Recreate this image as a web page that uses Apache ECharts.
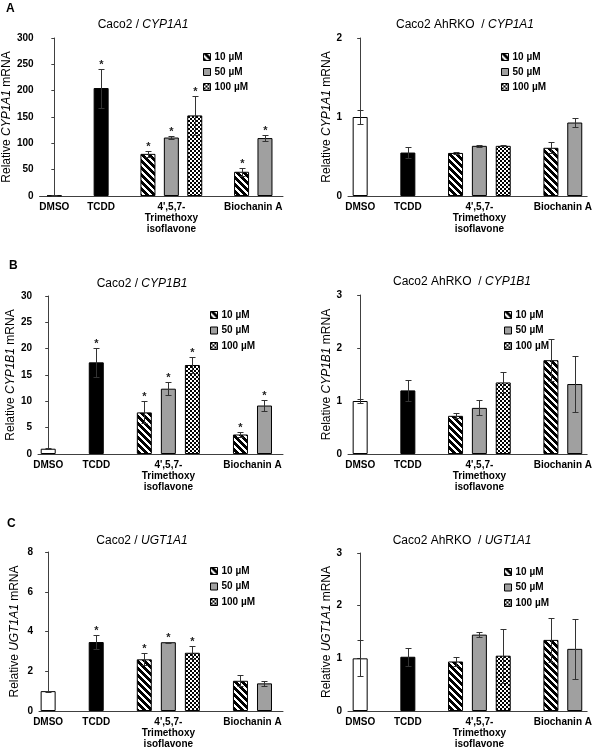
<!DOCTYPE html>
<html><head><meta charset="utf-8">
<script src="https://cdn.jsdelivr.net/npm/echarts@6/dist/echarts.min.js"></script>
<style>html,body{margin:0;padding:0;background:#fff}#c{width:595px;height:750px}</style>
</head><body><div id="c"></div>
<script>
// ---------- data ----------
const categories = ["DMSO", "TCDD", "4',5,7-\nTrimethoxy\nisoflavone", "Biochanin A"];
const categoryPos = [0, 2, 5, 8.5];               // slot position of each category label
const seriesNames = ["DMSO", "TCDD", "10 µM", "50 µM", "100 µM"];
const legendItems = ["10 µM", "50 µM", "100 µM"];
const barSlots  = [0, 2, 4, 5, 6, 8, 9];          // slot of each bar
const barSeries = [0, 1, 2, 3, 4, 2, 3];          // series of each bar

const cellLines = ["Caco2", "Caco2 AhRKO "];
const genes = ["CYP1A1", "CYP1A1", "CYP1B1", "CYP1B1", "UGT1A1", "UGT1A1"];
const panelLetters = ["A", "B", "C"];
const yMax = [300, 2, 30, 3, 8, 3];
const yInterval = [50, 1, 5, 1, 2, 1];

const meanA_wt = [1, 205, 80, 111, 153, 46, 110];
const errA_wt  = [0.6, 37, 5, 2, 37, 8, 6];
const sigA_wt  = [0, 1, 1, 1, 1, 1, 1];
const meanA_ko = [1.0, 0.55, 0.545, 0.635, 0.635, 0.61, 0.93];
const errA_ko  = [0.09, 0.075, 0.01, 0.01, 0.007, 0.07, 0.06];
const sigA_ko  = [0, 0, 0, 0, 0, 0, 0];
const meanB_wt = [1.0, 17.4, 7.9, 12.4, 16.9, 3.7, 9.2];
const errB_wt  = [0.1, 2.7, 2.1, 1.2, 1.6, 0.5, 1.0];
const sigB_wt  = [0, 1, 1, 1, 1, 1, 1];
const meanB_ko = [1.0, 1.2, 0.72, 0.87, 1.35, 1.77, 1.32];
const errB_ko  = [0.04, 0.2, 0.05, 0.14, 0.2, 0.4, 0.52];
const sigB_ko  = [0, 0, 0, 0, 0, 0, 0];
const meanC_wt = [1.0, 3.47, 2.6, 3.46, 2.93, 1.52, 1.39];
const errC_wt  = [0.02, 0.35, 0.3, 0.03, 0.32, 0.27, 0.14];
const sigC_wt  = [0, 1, 1, 1, 1, 0, 0];
const meanC_ko = [1.0, 1.03, 0.94, 1.45, 1.05, 1.35, 1.18];
const errC_ko  = [0.34, 0.17, 0.08, 0.05, 0.51, 0.42, 0.57];
const sigC_ko  = [0, 0, 0, 0, 0, 0, 0];

const panelMeans = [meanA_wt, meanA_ko, meanB_wt, meanB_ko, meanC_wt, meanC_ko];
const panelErrs  = [errA_wt, errA_ko, errB_wt, errB_ko, errC_wt, errC_ko];
const panelSigs  = [sigA_wt, sigA_ko, sigB_wt, sigB_ko, sigC_wt, sigC_ko];

// ---------- layout ----------
const FONT = "'Liberation Sans', Arial, sans-serif";
const gridLeft = [33, 348, 38, 348, 39, 348];
const gridRight = [283, 588, 283, 588, 283, 588];
const gridTop = [38, 38, 296, 295, 552, 553];
const gridBottom = [196, 196, 454, 454, 712, 712];
const xMin = [-0.63, -0.51, -0.425, -0.51, -0.38, -0.51];
const xMax = [9.77, 9.52, 9.77, 9.52, 9.77, 9.52];
const nameGap = [18, 14, 19, 14, 18, 14];
const titleX = [143, 465, 142, 462, 142, 462];
const titleY = [19, 19, 278, 276, 535, 535];
const legendX = [203, 501, 210, 504, 210, 504];
const legendY = [51, 51, 309, 309, 565, 566];
const letterPos = [[6, 3], [9, 260], [7, 518]];

// ---------- patterns ----------
function stripePattern() {
  const n = 7, c = document.createElement('canvas');
  c.width = n; c.height = n;
  const g = c.getContext('2d');
  g.fillStyle = '#fff'; g.fillRect(0, 0, n, n);
  g.fillStyle = '#000';
  for (let y = 0; y < n; y++) for (let k = 0; k < 4; k++) g.fillRect((y + k) % n, y, 1, 1);
  return c;
}
function checkerPattern() {
  const c = document.createElement('canvas');
  c.width = 4; c.height = 4;
  const g = c.getContext('2d');
  g.fillStyle = '#fff'; g.fillRect(0, 0, 4, 4);
  g.fillStyle = '#000';
  g.fillRect(0, 0, 2, 2); g.fillRect(2, 2, 2, 2);
  return c;
}
const fills = ['#ffffff', '#000000', { image: stripePattern(), repeat: 'repeat' }, '#a0a0a0', { image: checkerPattern(), repeat: 'repeat' }];

// ---------- build option ----------
const grids = [], xAxes = [], yAxes = [], series = [], titles = [], legends = [];
for (let p = 0; p < 6; p++) {
  grids.push({ left: gridLeft[p], top: gridTop[p], width: gridRight[p] - gridLeft[p], height: gridBottom[p] - gridTop[p] });
  xAxes.push({
    type: 'value', gridIndex: p, min: xMin[p], max: xMax[p],
    splitLine: { show: false }, axisTick: { show: false },
    axisLine: { show: true, onZero: false, lineStyle: { color: '#404040', width: 1 } },
    axisLabel: {
      customValues: categoryPos,
      formatter: v => categories[categoryPos.indexOf(v)] || '',
      fontFamily: FONT, fontWeight: 'bold', fontSize: 10, color: '#000', lineHeight: 11, margin: 6
    }
  });
  yAxes.push({
    type: 'value', gridIndex: p, min: 0, max: yMax[p], interval: yInterval[p],
    splitLine: { show: false },
    axisLine: { show: true, lineStyle: { color: '#404040', width: 1 } },
    axisTick: { show: true, length: 3, lineStyle: { color: '#404040' } },
    axisLabel: { fontFamily: FONT, fontWeight: 'bold', fontSize: 10, color: '#000', margin: 6 },
    name: '{n|Relative }{i|' + genes[p] + '}{n| mRNA}',
    nameLocation: 'middle', nameGap: nameGap[p],
    nameTextStyle: {
      fontFamily: FONT, fontSize: 12, color: '#000',
      rich: {
        n: { fontFamily: FONT, fontSize: 12, color: '#000' },
        i: { fontFamily: FONT, fontSize: 12, color: '#000', fontStyle: 'italic' }
      }
    }
  });
  titles.push({
    text: '{n|' + cellLines[p % 2] + ' / }{i|' + genes[p] + '}',
    left: titleX[p], top: titleY[p], textAlign: 'center', padding: 0,
    textStyle: {
      fontFamily: FONT, fontSize: 12, fontWeight: 'normal', color: '#000',
      rich: {
        n: { fontFamily: FONT, fontSize: 12, color: '#000' },
        i: { fontFamily: FONT, fontSize: 12, color: '#000', fontStyle: 'italic' }
      }
    }
  });
  legends.push({
    data: legendItems, orient: 'vertical', left: legendX[p], top: legendY[p],
    itemWidth: 7, itemHeight: 7, itemGap: p < 2 ? 3 : 3.5, padding: 0, icon: 'rect',
    selectedMode: false,
    itemStyle: { borderColor: '#000', borderWidth: 1 },
    textStyle: { fontFamily: FONT, fontWeight: 'bold', fontSize: 10, color: '#000', lineHeight: 12, padding: [0, 0, 0, -1] }
  });
  const mean = panelMeans[p], err = panelErrs[p], sig = panelSigs[p];
  for (let s = 0; s < seriesNames.length; s++) {
    const data = [];
    for (let b = 0; b < barSlots.length; b++) if (barSeries[b] === s) data.push([barSlots[b], mean[b]]);
    series.push({
      type: 'bar', name: seriesNames[s], xAxisIndex: p, yAxisIndex: p,
      barWidth: 15, barGap: '-100%', silent: true, animation: false,
      itemStyle: { color: fills[s], borderColor: '#000', borderWidth: 1 },
      data: data
    });
  }
  series.push({
    type: 'custom', name: 'err' + p, xAxisIndex: p, yAxisIndex: p, silent: true, animation: false, z: 10,
    data: barSlots.map((x, b) => [x, mean[b] - err[b], mean[b] + err[b], sig[b]]),
    encode: { x: 0, y: [1, 2] },
    renderItem: function (params, api) {
      const x = api.value(0), lo = api.value(1), hi = api.value(2), sg = api.value(3);
      const pHi = api.coord([x, hi]), pLo = api.coord([x, lo]);
      const cx = Math.round(pHi[0]) + 0.5;
      const yh = Math.round(pHi[1]) + 0.5, yl = Math.round(pLo[1]) + 0.5;
      const st = { stroke: '#333', lineWidth: 1 };
      const ch = [
        { type: 'line', shape: { x1: cx, y1: yh, x2: cx, y2: yl }, style: st },
        { type: 'line', shape: { x1: cx - 3, y1: yh, x2: cx + 3, y2: yh }, style: st },
        { type: 'line', shape: { x1: cx - 3, y1: yl, x2: cx + 3, y2: yl }, style: st }
      ];
      if (sg) ch.push({ type: 'text', style: { text: '*', x: cx, y: yh - 5, align: 'center', verticalAlign: 'middle', font: 'bold 11px ' + FONT, fill: '#222' } });
      return { type: 'group', children: ch };
    }
  });
}
for (let i = 0; i < 3; i++) {
  titles.push({ text: panelLetters[i], left: letterPos[i][0], top: letterPos[i][1], padding: 0,
    textStyle: { fontFamily: FONT, fontSize: 12, fontWeight: 'bold', color: '#000' } });
}

const chart = echarts.init(document.getElementById('c'), null, { renderer: 'canvas' });
chart.setOption({
  animation: false, backgroundColor: '#fff',
  title: titles, legend: legends, grid: grids, xAxis: xAxes, yAxis: yAxes, series: series
});
</script></body></html>
